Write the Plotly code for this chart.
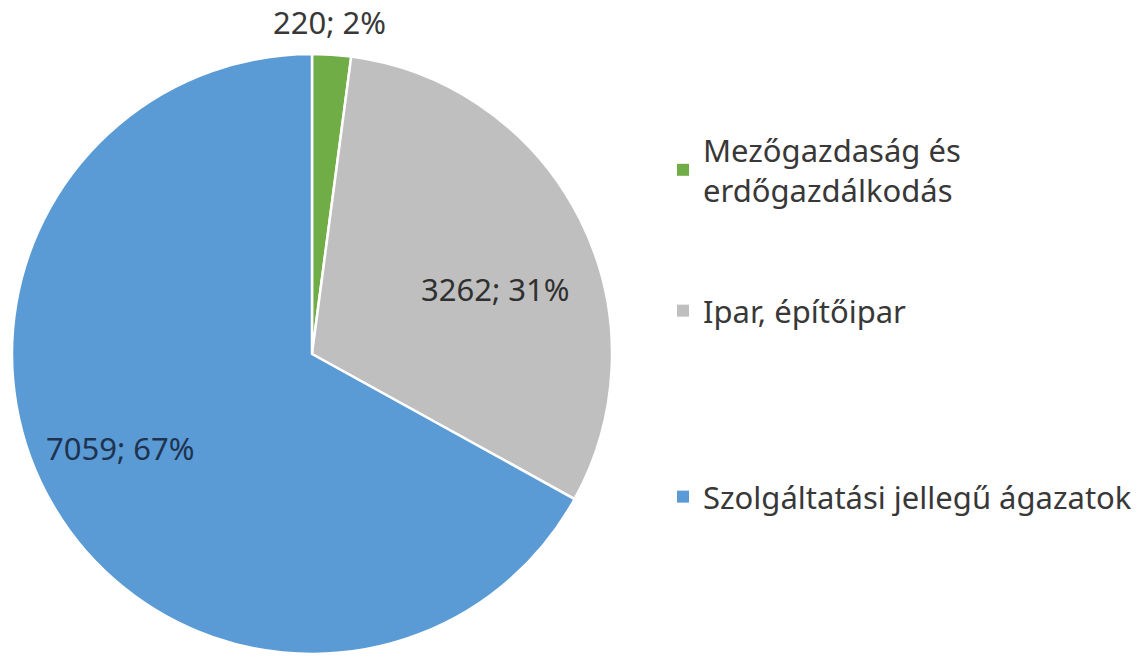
import math
import plotly.graph_objects as go

# Sector breakdown: value and share
categories = ["Mezőgazdaság és erdőgazdálkodás", "Ipar, építőipar", "Szolgáltatási jellegű ágazatok"]
legend_labels = ["Mezőgazdaság és<br>erdőgazdálkodás", "Ipar, építőipar", "Szolgáltatási jellegű ágazatok"]
values = [220, 3262, 7059]
percent_labels = ["2%", "31%", "67%"]

colors = ["#70AD47", "#BFBFBF", "#5B9BD5"]
text_colors = ["#383838", "#303030", "#1E3350"]
FONT = "Noto Sans"

W, H = 1137, 662
texts = [f"{v}; {p}" for v, p in zip(values, percent_labels)]

# pie placement (pixels)
dom_x = (12, 612)
dom_y_top, dom_y_bot = 53, 655
cx = (dom_x[0] + dom_x[1]) / 2
cy = (dom_y_top + dom_y_bot) / 2
radius = (dom_x[1] - dom_x[0]) / 2

fig = go.Figure()
fig.add_trace(go.Pie(
    labels=categories,
    values=values,
    textinfo="none",
    marker=dict(colors=colors, line=dict(color="white", width=2.5)),
    sort=False,
    direction="clockwise",
    rotation=0,
    showlegend=False,
    hoverinfo="skip",
    domain=dict(x=[dom_x[0] / W, dom_x[1] / W], y=[1 - dom_y_bot / H, 1 - dom_y_top / H]),
))

# Data labels placed along each slice's angular position
label_radius = [1.107, 0.65, 0.71]
label_angle_shift = [-0.7, 7.4, 4.4]
total = sum(values)
cum = 0
for i, v in enumerate(values):
    mid = (cum + v / 2) / total * 360 + label_angle_shift[i]
    cum += v
    a = math.radians(mid)
    px = cx + radius * label_radius[i] * math.sin(a)
    py = cy - radius * label_radius[i] * math.cos(a)
    fig.add_annotation(
        x=px / W, y=1 - py / H, xref="paper", yref="paper",
        text=texts[i], showarrow=False, xanchor="center", yanchor="middle",
        font=dict(family=FONT, size=31, color=text_colors[i]),
    )

# Legend entries as square markers, one legend box each for free placement
legend_y = [170, 311, 497]
for i, (lab, col) in enumerate(zip(legend_labels, colors)):
    name = "legend" if i == 0 else f"legend{i + 1}"
    fig.add_trace(go.Scatter(
        x=[None], y=[None], mode="markers", name=lab,
        marker=dict(symbol="square", size=9, color=col),
        legend=name, showlegend=True, hoverinfo="skip",
    ))
    fig.update_layout({name: dict(
        x=663 / W, y=1 - legend_y[i] / H, xanchor="left", yanchor="middle",
        font=dict(family=FONT, size=31, color="#383838"),
        bgcolor="rgba(0,0,0,0)", itemsizing="constant",
    )})

fig.update_layout(
    width=W, height=H,
    margin=dict(l=0, r=0, t=0, b=0),
    paper_bgcolor="white", plot_bgcolor="white",
    xaxis=dict(visible=False), yaxis=dict(visible=False),
)

fig.write_html("out.html")
